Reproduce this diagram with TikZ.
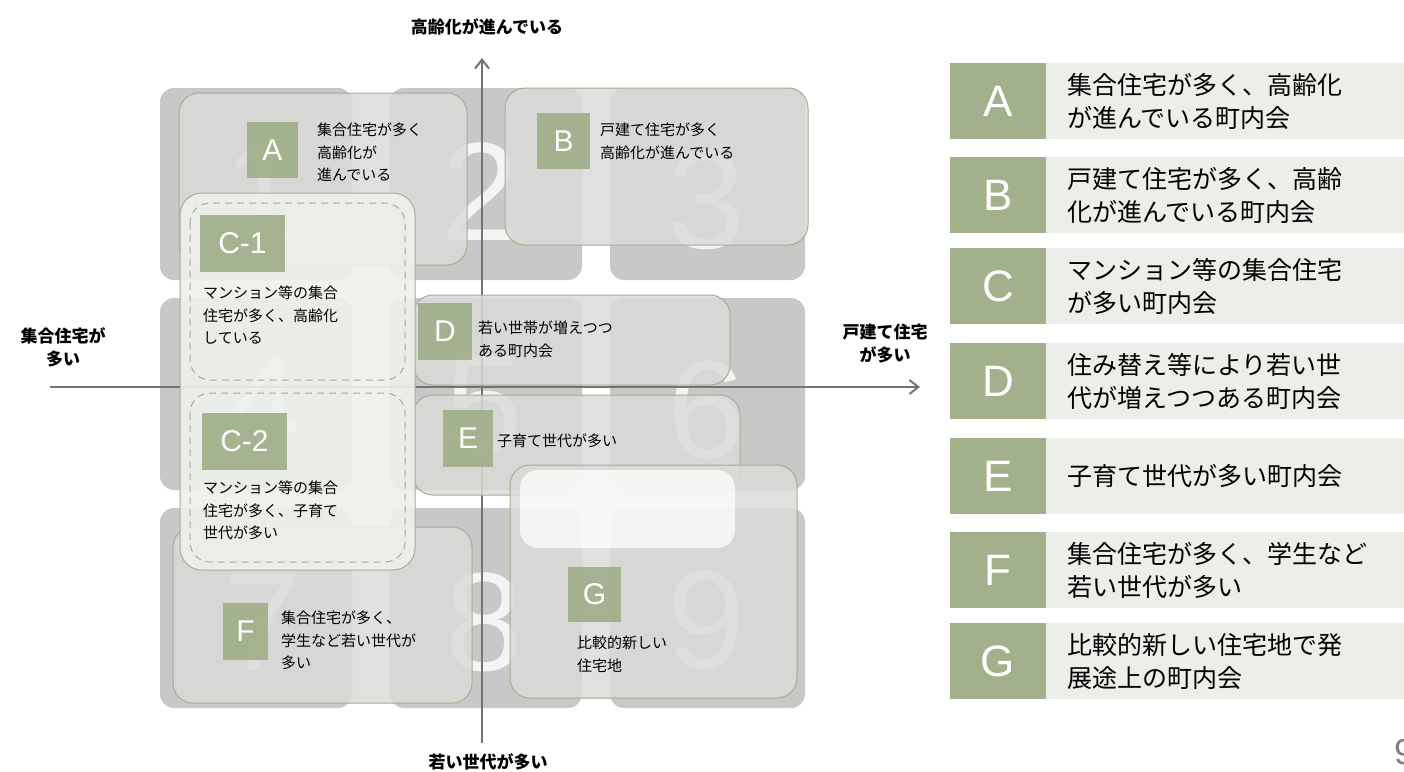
\documentclass[tikz,border=0pt]{standalone}
\usepackage{fontspec}
\setmainfont{Liberation Sans}
\newfontfamily\jp{Noto Sans CJK JP}
\usetikzlibrary{arrows.meta}
\definecolor{tilegray}{RGB}{200,200,200}
\definecolor{cardgray}{RGB}{218,219,216}
\definecolor{cardedge}{RGB}{168,172,142}
\definecolor{cfill}{RGB}{238,240,235}
\definecolor{sqgreen}{RGB}{162,176,140}
\definecolor{panel}{RGB}{236,238,233}
\definecolor{axisgray}{RGB}{115,115,115}
\tikzset{
  tile/.style={fill=tilegray, rounded corners=14pt},
  card/.style={fill=cardgray, fill opacity=0.84, draw=cardedge, line width=1pt, rounded corners=20pt},
  ccard/.style={fill=cfill, fill opacity=0.9, draw=cardedge, line width=1pt, rounded corners=22pt},
  dashbox/.style={draw=gray!70, line width=1pt, dash pattern=on 7pt off 5pt, rounded corners=20pt},
  sq/.style={fill=sqgreen, fill opacity=0.95, text=white, text opacity=1, inner sep=0pt, font=\fontsize{30}{30}\selectfont},
  lbl/.style={inner sep=0pt, align=left, anchor=north west, font=\jp\fontsize{15}{22.5}\selectfont},
  bignum/.style={text=white, text opacity=0.8, font=\fontsize{140}{140}\selectfont, inner sep=0pt},
  axislbl/.style={inner sep=0pt, align=center, font=\jp\bfseries\fontsize{17}{23}\selectfont},
  axisline/.style={draw=axisgray, line width=2pt},
  lsq/.style={fill=sqgreen, text=white, inner sep=0pt, minimum width=96pt, minimum height=76pt, font=\fontsize{44}{44}\selectfont},
  lpanel/.style={fill=panel, inner sep=0pt, minimum width=358pt, minimum height=76pt},
  ltext/.style={inner sep=0pt, align=left, anchor=west, font=\jp\fontsize{25}{33}\selectfont},
}
\begin{document}
\begin{tikzpicture}[x=1pt, y=-1pt]
\useasboundingbox (0,0) rectangle (1404,771);
% background tiles
\path[tile] (160,88) rectangle (352,280);
\path[tile] (390,88) rectangle (582,280);
\path[tile] (610,88) rectangle (805,280);
\path[tile] (160,298) rectangle (352,490);
\path[tile] (390,298) rectangle (582,490);
\path[tile] (610,298) rectangle (805,490);
\path[tile] (160,508) rectangle (352,708);
\path[tile] (390,508) rectangle (582,708);
\path[tile] (610,508) rectangle (805,708);
% big numbers
\node[bignum] (n1) at (262,192) {1};
\node[bignum] (n2) at (480,192) {2};
\node[bignum] (n3) at (706,200) {3};
\node[bignum] (n4) at (262,405) {4};
\node[bignum] (n5) at (484,405) {5};
\node[bignum] (n6) at (706,410) {6};
\node[bignum] (n7) at (262,622) {7};
\node[bignum] (n8) at (484,622) {8};
\node[bignum] (n9) at (706,620) {9};
% axes
\coordinate (hl) at (50,387);
\coordinate (hr) at (920,387);
\coordinate (vb) at (482,743);
\coordinate (vt) at (482,58);
\draw[axisline, -{Straight Barb[length=9pt,width=14pt]}] (hl) -- (hr);
\draw[axisline, -{Straight Barb[length=9pt,width=14pt]}] (vb) -- (vt);
% cards
\path[card] (179,93) rectangle (467,265);
\path[card] (505,88) rectangle (808,245);
\path[card] (413,295) rectangle (730,385);
\path[card] (413,395) rectangle (740,495);
\path[card] (173,527) rectangle (472,703);
\path[card] (510,465) rectangle (797,698);
\path[fill=white, fill opacity=0.75, rounded corners=18pt] (520,470) rectangle (735,548);
\path[ccard] (180,193) rectangle (415,570);
\path[dashbox] (190,203) rectangle (405,380);
\path[dashbox] (190,393) rectangle (405,562);
% squares
\node[sq, minimum width=51pt, minimum height=56pt] (sqA) at (272.5,150) {A};
\node[sq, minimum width=53pt, minimum height=56pt] (sqB) at (563.5,141) {B};
\node[sq, minimum width=85pt, minimum height=57pt] (sqC1) at (242.5,243.5) {C-1};
\node[sq, minimum width=54pt, minimum height=57pt] (sqD) at (445,331.5) {D};
\node[sq, minimum width=50pt, minimum height=57pt] (sqE) at (468,438.5) {E};
\node[sq, minimum width=85pt, minimum height=57pt] (sqC2) at (244.5,441.5) {C-2};
\node[sq, minimum width=45pt, minimum height=57pt] (sqF) at (245.5,631.5) {F};
\node[sq, minimum width=53pt, minimum height=55pt] (sqG) at (594.5,594.5) {G};
% card texts
\node[lbl] (tA) at (317,123) {集合住宅が多く\\高齢化が\\進んでいる};
\node[lbl] (tB) at (600,123) {戸建て住宅が多く\\高齢化が進んでいる};
\node[lbl] (tC1) at (203,286) {マンション等の集合\\住宅が多く、高齢化\\している};
\node[lbl] (tD) at (478,321) {若い世帯が増えつつ\\ある町内会};
\node[lbl] (tE) at (497,434) {子育て世代が多い};
\node[lbl] (tC2) at (203,481) {マンション等の集合\\住宅が多く、子育て\\世代が多い};
\node[lbl] (tF) at (281,611) {集合住宅が多く、\\学生など若い世代が\\多い};
\node[lbl] (tG) at (577,636) {比較的新しい\\住宅地};
% axis labels
\node[axislbl] (ltop) at (487,27) {高齢化が進んでいる};
\node[axislbl] (lleft) at (63,347) {集合住宅が\\多い};
\node[axislbl] (lright) at (885,344) {戸建て住宅\\が多い};
\node[axislbl] (lbot) at (488,762) {若い世代が多い};
% legend
\foreach \n/\y/\t in {A/101/{集合住宅が多く、高齢化\\が進んでいる町内会},
                      B/195/{戸建て住宅が多く、高齢\\化が進んでいる町内会},
                      C/286/{マンション等の集合住宅\\が多い町内会},
                      D/381/{住み替え等により若い世\\代が増えつつある町内会},
                      E/476/{子育て世代が多い町内会},
                      F/570/{集合住宅が多く、学生など\\若い世代が多い},
                      G/661/{比較的新しい住宅地で発\\展途上の町内会}}{
  \node[lpanel] (p\n) at (1225,\y) {};
  \node[lsq] (s\n) at (998,\y) {\n};
  \node[ltext] (t\n) at (1067,\y) {\t};
}
% page number
\node[text=gray, font=\fontsize{36}{36}\selectfont, anchor=west, inner sep=0pt] (pg) at (1394,752) {9};
\end{tikzpicture}
\end{document}
